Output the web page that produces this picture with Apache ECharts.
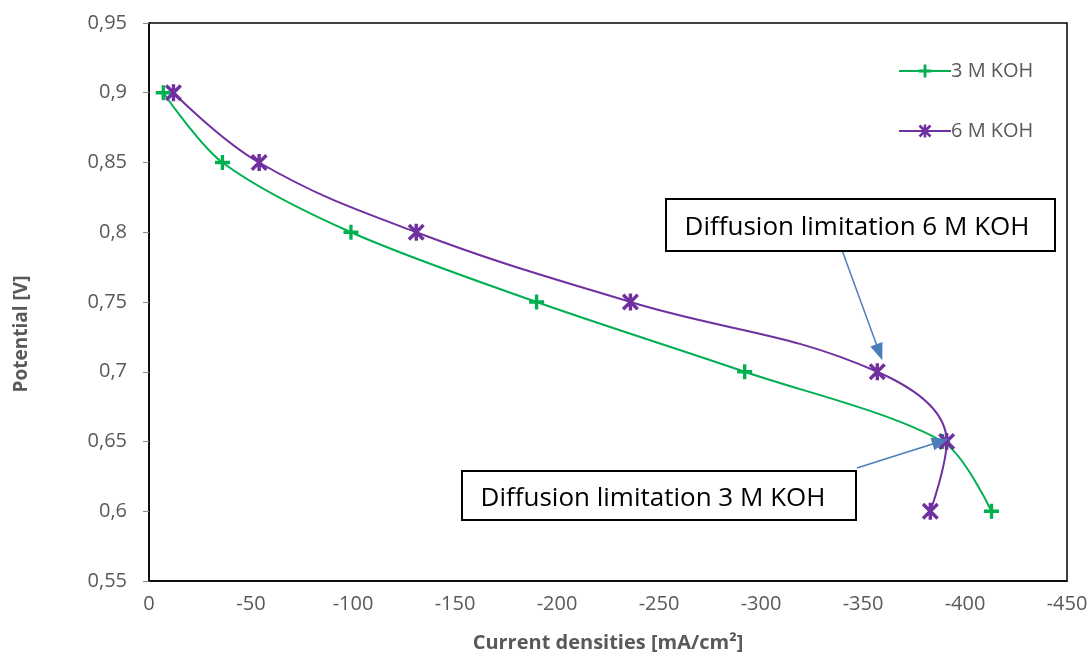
<!DOCTYPE html>
<html>
<head>
<meta charset="utf-8">
<script src="https://cdn.jsdelivr.net/npm/echarts@6/dist/echarts.min.js"></script>
<style>
html,body{margin:0;padding:0;background:#fff;}
#chart{width:1092px;height:662px;}
</style>
</head>
<body>
<div id="chart"></div>
<script>
// potentials [V]
var potential3M = [0.9, 0.85, 0.8, 0.75, 0.7, 0.65, 0.6];
var current3M = [-7, -36, -99, -190, -292, -389, -413];
var potential6M = [0.9, 0.85, 0.8, 0.75, 0.7, 0.65, 0.6];
var current6M = [-12, -54, -131, -236, -357, -391, -383];
var seriesNames = ['3 M KOH', '6 M KOH'];
var noteTexts = ['Diffusion limitation 6 M KOH', 'Diffusion limitation 3 M KOH'];
// arrows: [from, to] in data units (current, potential)
var arrow6M = [[-340, 0.786], [-358, 0.714]];
var arrow3M = [[-347, 0.631], [-388, 0.650]];

var GREEN = '#00b050', PURPLE = '#7030a0', ARROW = '#4a7ebb';
var plusPath = 'path://M3.9,0H6.1V3.9H10V6.1H6.1V10H3.9V6.1H0V3.9H3.9Z';
var starPath = 'path://M4,0H6V10H4Z M1.4,0L10,8.6L8.6,10L0,1.4Z M8.6,0L10,1.4L1.4,10L0,8.6Z';

function pairs(xs, ys){
	var out = [];
	for (var i = 0; i < xs.length; i++) out.push([xs[i], ys[i]]);
	return out;
}

function arrowLine(a){
	return [{coord: a[0], symbol: 'none'}, {coord: a[1], symbol: 'triangle', symbolSize: [13, 17]}];
}

var chart = echarts.init(document.getElementById('chart'));
var font = '"Open Sans", "Noto Sans", sans-serif';

var option = {
	animation: false,
	backgroundColor: '#fff',
	grid: {left: 149, right: 25, top: 23, bottom: 81, show: true, borderColor: '#000', borderWidth: 1.5, containLabel: false},
	legend: {
		orient: 'vertical', left: 893, top: 56, itemWidth: 52, itemHeight: 16, itemGap: 40,
		textStyle: {color: '#595959', fontSize: 20, fontFamily: font, padding: [0, 0, 0, -5]},
		data: seriesNames
	},
	xAxis: {
		type: 'value', min: -450, max: 0, interval: 50, inverse: true,
		name: 'Current densities [mA/cm²]', nameLocation: 'middle', nameGap: 52,
		nameTextStyle: {color: '#595959', fontSize: 20, fontWeight: 'bold', fontFamily: font},
		axisLine: {lineStyle: {color: '#000', width: 1.5}},
		axisTick: {show: false},
		splitLine: {show: false},
		axisLabel: {color: '#595959', fontSize: 20, fontFamily: font, margin: 13}
	},
	yAxis: {
		type: 'value', min: 0.55, max: 0.95, interval: 0.05,
		axisLine: {show: true, lineStyle: {color: '#000', width: 1.5}},
		axisTick: {show: true, length: 6, lineStyle: {color: '#888'}},
		splitLine: {show: false},
		axisLabel: {
			color: '#595959', fontSize: 20, fontFamily: font, margin: 22,
			formatter: function(v){ return String(+v.toFixed(2)).replace('.', ','); }
		}
	},
	series: [
		{
			name: seriesNames[0], type: 'line', smooth: 0.3,
			data: pairs(current3M, potential3M),
			symbol: plusPath, symbolSize: 15,
			lineStyle: {color: GREEN, width: 2}, itemStyle: {color: GREEN},
			markLine: {silent: true, animation: false, label: {show: false},
				lineStyle: {color: ARROW, width: 1.5, type: 'solid'},
				data: [arrowLine(arrow3M)]}
		},
		{
			name: seriesNames[1], type: 'line', smooth: 0.4,
			data: pairs(current6M, potential6M),
			symbol: starPath, symbolSize: 17,
			lineStyle: {color: PURPLE, width: 2}, itemStyle: {color: PURPLE},
			markLine: {silent: true, animation: false, label: {show: false},
				lineStyle: {color: ARROW, width: 1.5, type: 'solid'},
				data: [arrowLine(arrow6M)]}
		}
	],
	graphic: [
		{type: 'text', x: 22, y: 334, rotation: Math.PI / 2,
			style: {text: 'Potential [V]', fill: '#595959', font: 'bold 19px ' + font, align: 'center', verticalAlign: 'middle'}},
		{type: 'rect', shape: {x: 666, y: 199, width: 389, height: 52}, style: {fill: '#fff', stroke: '#000', lineWidth: 2}, z: 100},
		{type: 'text', x: 857, y: 228, z: 101, style: {text: noteTexts[0], fill: '#000', font: '26px ' + font, align: 'center', verticalAlign: 'middle'}},
		{type: 'rect', shape: {x: 462, y: 471, width: 394, height: 49}, style: {fill: '#fff', stroke: '#000', lineWidth: 2}, z: 100},
		{type: 'text', x: 653, y: 499, z: 101, style: {text: noteTexts[1], fill: '#000', font: '26px ' + font, align: 'center', verticalAlign: 'middle'}}
	]
};
chart.setOption(option);
</script>
</body>
</html>
